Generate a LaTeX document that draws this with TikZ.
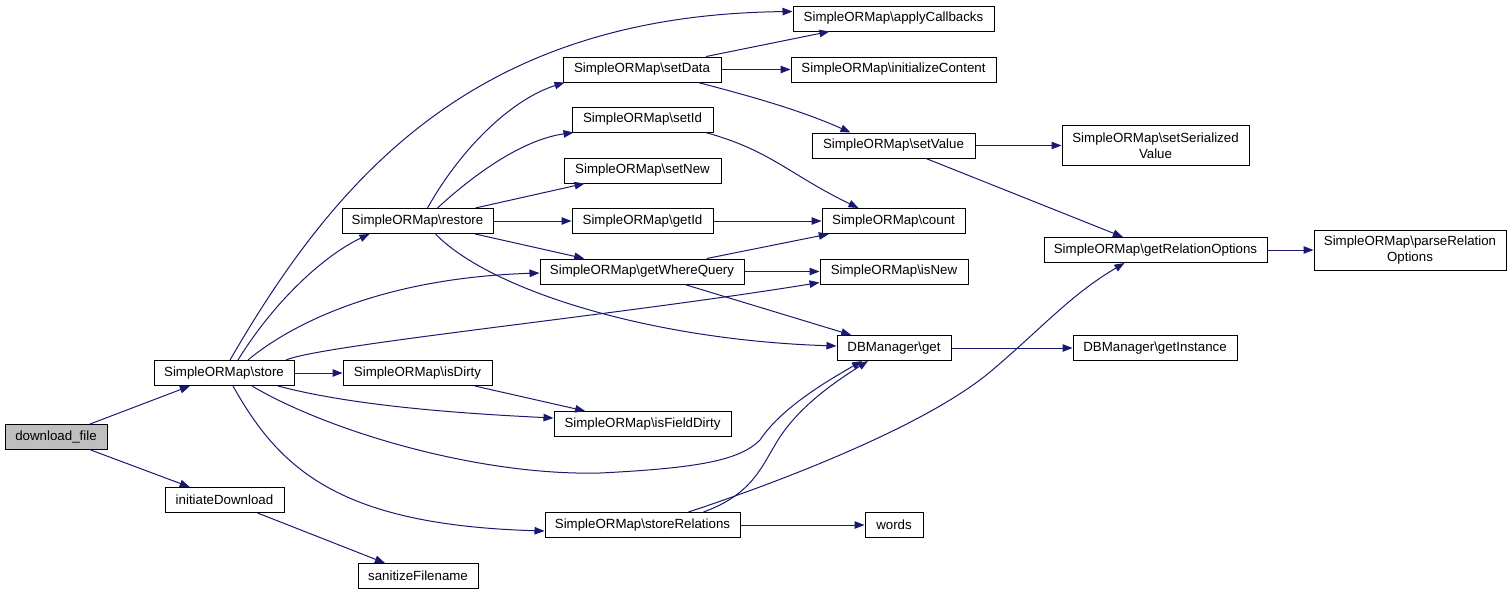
\documentclass[tikz,border=0pt]{standalone}
\usepackage{fontspec}
\setmainfont{Liberation Sans}
\usetikzlibrary{arrows.meta}
\definecolor{edgeblue}{HTML}{191970}
\definecolor{curgray}{HTML}{BFBFBF}
\begin{document}
\begin{tikzpicture}[x=1pt,y=-1pt,
  fn/.style={draw=black,line width=1pt,fill=white,font=\fontsize{13.3}{15.5}\selectfont,minimum height=25pt,inner sep=1pt,align=center},
  call/.style={draw=edgeblue,line width=1pt,-{Triangle[length=10pt,width=7.5pt]}}]
\fill[white] (0,0) rectangle (1511,595);
\useasboundingbox (0,0) rectangle (1511,595);
% nodes
\node[fn,fill=curgray,minimum width=102pt] (df) at (56,437) {download\_file};
\node[fn,minimum width=140pt] (store) at (224,373) {SimpleORMap\textbackslash store};
\node[fn,minimum width=149pt] (isDirty) at (417.5,373) {SimpleORMap\textbackslash isDirty};
\node[fn,minimum width=119pt] (initDl) at (224.5,500) {initiateDownload};
\node[fn,minimum width=120pt] (sanit) at (418,576) {sanitizeFilename};
\node[fn,minimum width=201pt] (applyCb) at (893.5,18.5) {SimpleORMap\textbackslash applyCallbacks};
\node[fn,minimum width=158pt] (setData) at (642,69.5) {SimpleORMap\textbackslash setData};
\node[fn,minimum width=205pt] (initContent) at (893.5,69.5) {SimpleORMap\textbackslash initializeContent};
\node[fn,minimum width=141pt] (setId) at (642.5,119.5) {SimpleORMap\textbackslash setId};
\node[fn,minimum width=163pt] (setValue) at (893.5,145.5) {SimpleORMap\textbackslash setValue};
\node[fn,minimum width=157pt] (setNew) at (642.5,170.5) {SimpleORMap\textbackslash setNew};
\node[fn,minimum width=151pt] (restore) at (417.5,221) {SimpleORMap\textbackslash restore};
\node[fn,minimum width=141pt] (getId) at (642.5,221) {SimpleORMap\textbackslash getId};
\node[fn,minimum width=143pt] (count) at (893.5,221) {SimpleORMap\textbackslash count};
\node[fn,minimum width=204pt] (gwq) at (642,271.5) {SimpleORMap\textbackslash getWhereQuery};
\node[fn,minimum width=148pt] (isNew) at (894,271.5) {SimpleORMap\textbackslash isNew};
\node[fn,minimum width=114pt] (dbget) at (894,348) {DBManager\textbackslash get};
\node[fn,minimum width=177pt] (isFD) at (642.5,424) {SimpleORMap\textbackslash isFieldDirty};
\node[fn,minimum width=195pt] (storeRel) at (642.5,525) {SimpleORMap\textbackslash storeRelations};
\node[fn,minimum width=58pt] (words) at (894,525) {words};
\node[fn,minimum width=187pt,minimum height=40pt] (setSer) at (1155.5,145.5) {SimpleORMap\textbackslash setSerialized\\Value};
\node[fn,minimum width=223pt] (getRO) at (1155.5,250) {SimpleORMap\textbackslash getRelationOptions};
\node[fn,minimum width=192pt,minimum height=40pt] (parseRO) at (1410,250) {SimpleORMap\textbackslash parseRelation\\Options};
\node[fn,minimum width=164pt] (getInst) at (1155,348) {DBManager\textbackslash getInstance};
% edges
\draw[call] (df) -- (store);
\draw[call] (df) -- (initDl);
\draw[call] (initDl) -- (sanit);
\draw[call] (store) -- (isDirty);
\draw[call] ([xshift=6pt]store.north) .. controls (340,170) and (480,15) .. ([yshift=7pt]applyCb.west);
\draw[call] ([xshift=14pt]store.north) .. controls (275,300) and (325,255) .. ([xshift=-48pt]restore.south);
\draw[call] ([xshift=24pt]store.north) .. controls (290,325) and (380,278) .. ([yshift=-1.5pt]gwq.west);
\draw[call] ([xshift=62pt]store.north) .. controls (320,345) and (620,315) .. ([yshift=2pt]isNew.south west);
\draw[call] ([xshift=54pt]store.south) .. controls (350,405) and (450,413) .. ([yshift=6pt]isFD.west);
\draw[call] ([xshift=28pt]store.south) .. controls (330,432) and (480,476) .. (600,473)
  .. controls (700,468) and (740,460) .. (760,440)
  .. controls (780,410) and (820,385) .. ([xshift=-32pt]dbget.south);
\draw[call] ([xshift=9pt]store.south) .. controls (280,470) and (340,525) .. ([yshift=-6pt]storeRel.west);
\draw[call] ([xshift=10pt]restore.north) .. controls (460,150) and (510,100) .. ([xshift=2pt]setData.south west);
\draw[call] ([xshift=20pt]restore.north) .. controls (470,178) and (520,140) .. ([xshift=2pt]setId.south west);
\draw[call] (restore) -- (setNew);
\draw[call] (restore) -- (getId);
\draw[call] (restore) -- (gwq);
\draw[call] ([xshift=18pt]restore.south) .. controls (490,290) and (650,340) .. ([yshift=2pt]dbget.west);
\draw[call] (setData) -- (applyCb);
\draw[call] (setData) -- (initContent);
\draw[call] ([xshift=56pt]setData.south) .. controls (750,96) and (800,110) .. ([xshift=-43pt]setValue.north);
\draw[call] ([xshift=63pt]setId.south) .. controls (770,150) and (790,175) .. ([xshift=-35pt]count.north);
\draw[call] (getId) -- (count);
\draw[call] (gwq) -- (count);
\draw[call] (gwq) -- (isNew);
\draw[call] (gwq) -- (dbget);
\draw[call] (setValue) -- (setSer);
\draw[call] (setValue) -- (getRO);
\draw[call] (getRO) -- (parseRO);
\draw[call] (dbget) -- (getInst);
\draw[call] (isDirty) -- (isFD);
\draw[call] ([xshift=61pt]storeRel.north) .. controls (750,495) and (760,470) .. (775,445)
  .. controls (795,410) and (830,385) .. ([xshift=-26pt]dbget.south);
\draw[call] (storeRel) -- (words);
\draw[call] ([xshift=46pt]storeRel.north) .. controls (800,475) and (930,422) .. (990,372)
  .. controls (1040,330) and (1070,295) .. ([xshift=-31pt]getRO.south);
\end{tikzpicture}
\end{document}
